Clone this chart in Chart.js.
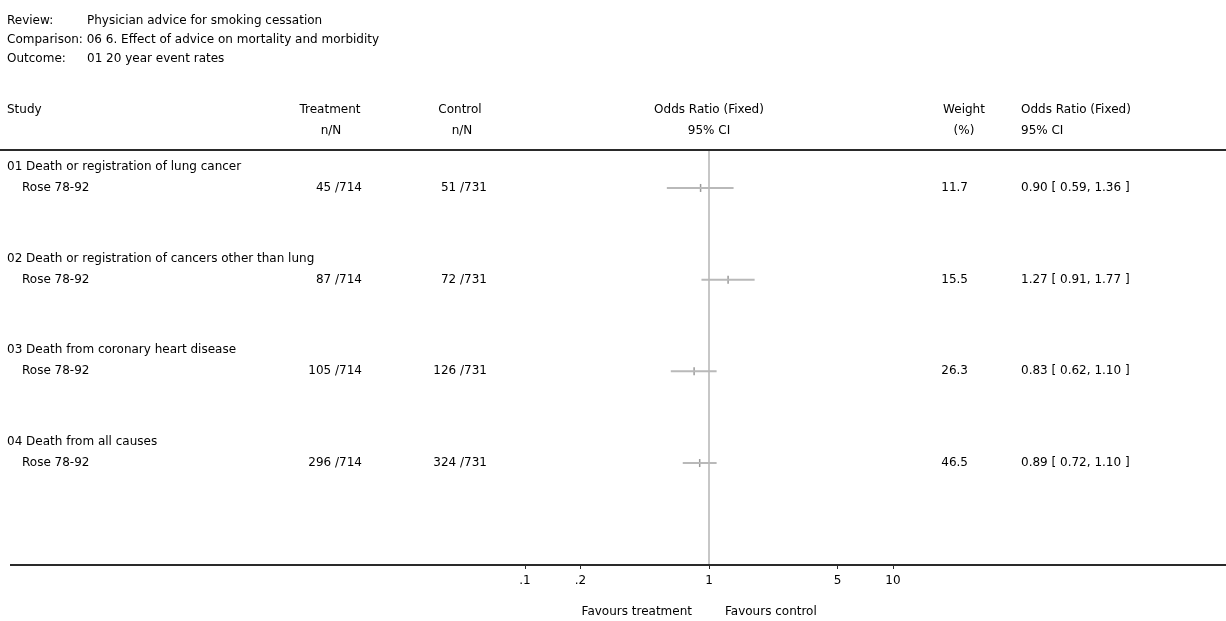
<!DOCTYPE html>
<html>
<head>
<meta charset="utf-8">
<script src="https://cdn.jsdelivr.net/npm/chart.js@4.4.1/dist/chart.umd.min.js"></script>
<style>
  html, body { margin: 0; padding: 0; background: #fff; }
  canvas { display: block; }
</style>
</head>
<body>
<canvas id="forest" width="1226" height="621"></canvas>
<script>
// header text
const review = "Physician advice for smoking cessation";
const comparison = "06 6. Effect of advice on mortality and morbidity";
const outcome = "01 20 year event rates";

// one row per outcome
const groups = [
    "01 Death or registration of lung cancer",
    "02 Death or registration of cancers other than lung",
    "03 Death from coronary heart disease",
    "04 Death from all causes"
];
const studies = ["Rose 78-92", "Rose 78-92", "Rose 78-92", "Rose 78-92"];
const treatEvents = [45, 87, 105, 296];
const treatTotal = [714, 714, 714, 714];
const ctrlEvents = [51, 72, 126, 324];
const ctrlTotal = [731, 731, 731, 731];
const weights = [11.7, 15.5, 26.3, 46.5];
const oddsRatio = [0.90, 1.27, 0.83, 0.89];
const ciLow = [0.59, 0.91, 0.62, 0.72];
const ciHigh = [1.36, 1.77, 1.10, 1.10];

// axis
const tickValues = [0.1, 0.2, 1, 5, 10];
const tickLabels = [".1", ".2", "1", "5", "10"];

const FONT = "12px 'DejaVu Sans'";
const ciColor = "#b9b9b9";

var datasets = [];
for (let i = 0; i < groups.length; i++) {
    datasets.push({
        type: "line",
        data: [{ x: ciLow[i], y: i }, { x: ciHigh[i], y: i }],
        borderColor: ciColor,
        borderWidth: 2,
        pointRadius: 0
    });
}
datasets.push({
    type: "scatter",
    data: oddsRatio.map((v, i) => ({ x: v, y: i })),
    pointStyle: "line",
    rotation: 90,
    radius: 4,
    borderColor: "#999",
    borderWidth: 1.5
});

const tablePlugin = {
    id: "tablePlugin",
    beforeDraw(chart) {
        const c = chart.ctx;
        c.save();
        c.fillStyle = "#fff";
        c.fillRect(0, 0, chart.width, chart.height);
        c.restore();
    },
    beforeDatasetsDraw(chart) {
        // line of no effect
        const c = chart.ctx;
        const a = chart.chartArea;
        const x1 = chart.scales.x.getPixelForValue(1);
        c.save();
        c.strokeStyle = "#b4b4b4";
        c.lineWidth = 1.5;
        c.beginPath();
        c.moveTo(x1, a.top);
        c.lineTo(x1, a.bottom);
        c.stroke();
        c.restore();
    },
    afterDraw(chart) {
        const c = chart.ctx;
        const a = chart.chartArea;
        const xs = chart.scales.x;
        const ys = chart.scales.y;
        const x1 = xs.getPixelForValue(1);

        c.save();
        c.fillStyle = "#000";
        c.font = FONT;
        c.textBaseline = "middle";

        function text(s, x, y, align) {
            c.textAlign = align || "left";
            c.fillText(s, x, y);
        }

        text("Review:", 7, 21);
        text(review, 87, 21);
        text("Comparison: " + comparison, 7, 40);
        text("Outcome:", 7, 59);
        text(outcome, 87, 59);

        text("Study", 7, 110);
        text("Treatment", 330, 110, "center");
        text("n/N", 331, 131, "center");
        text("Control", 460, 110, "center");
        text("n/N", 462, 131, "center");
        text("Odds Ratio (Fixed)", x1, 110, "center");
        text("95% CI", x1, 131, "center");
        text("Weight", 964, 110, "center");
        text("(%)", 964, 131, "center");
        text("Odds Ratio (Fixed)", 1021, 110);
        text("95% CI", 1021, 131);

        for (let i = 0; i < groups.length; i++) {
            const y = ys.getPixelForValue(i);
            text(groups[i], 7, y - 21);
            text(studies[i], 22, y);
            text(treatEvents[i] + " /" + treatTotal[i], 362, y, "right");
            text(ctrlEvents[i] + " /" + ctrlTotal[i], 487, y, "right");
            text(weights[i].toFixed(1), 968, y, "right");
            text(oddsRatio[i].toFixed(2) + " [ " + ciLow[i].toFixed(2) + ", " + ciHigh[i].toFixed(2) + " ]", 1021, y);
        }

        text("Favours treatment", x1 - 17, 612, "right");
        text("Favours control", x1 + 16, 612);

        // rules
        c.strokeStyle = "#2a2a2a";
        c.lineWidth = 2;
        c.beginPath();
        c.moveTo(0, a.top);
        c.lineTo(chart.width, a.top);
        c.moveTo(10, a.bottom);
        c.lineTo(chart.width, a.bottom);
        c.stroke();
        c.restore();
    }
};

new Chart(document.getElementById("forest"), {
    type: "scatter",
    data: { datasets: datasets },
    options: {
        responsive: false,
        devicePixelRatio: 1,
        animation: false,
        layout: { padding: { left: 525, right: 333, top: 150, bottom: 16 } },
        plugins: { legend: { display: false }, tooltip: { enabled: false } },
        scales: {
            x: {
                type: "logarithmic",
                min: 0.1,
                max: 10,
                border: { display: false },
                grid: { drawOnChartArea: false, drawTicks: true, tickLength: 4, color: "#2a2a2a" },
                afterBuildTicks: (scale) => {
                    scale.ticks = tickValues.map(v => ({ value: v }));
                },
                afterFit: (scale) => { scale.height = 40; },
                ticks: {
                    autoSkip: false,
                    maxRotation: 0,
                    padding: 5,
                    color: "#000",
                    font: { family: "DejaVu Sans", size: 12 },
                    callback: (value, index) => tickLabels[index]
                }
            },
            y: {
                type: "linear",
                reverse: true,
                min: -0.414,
                max: 4.112,
                display: false
            }
        }
    },
    plugins: [tablePlugin]
});
</script>
</body>
</html>
